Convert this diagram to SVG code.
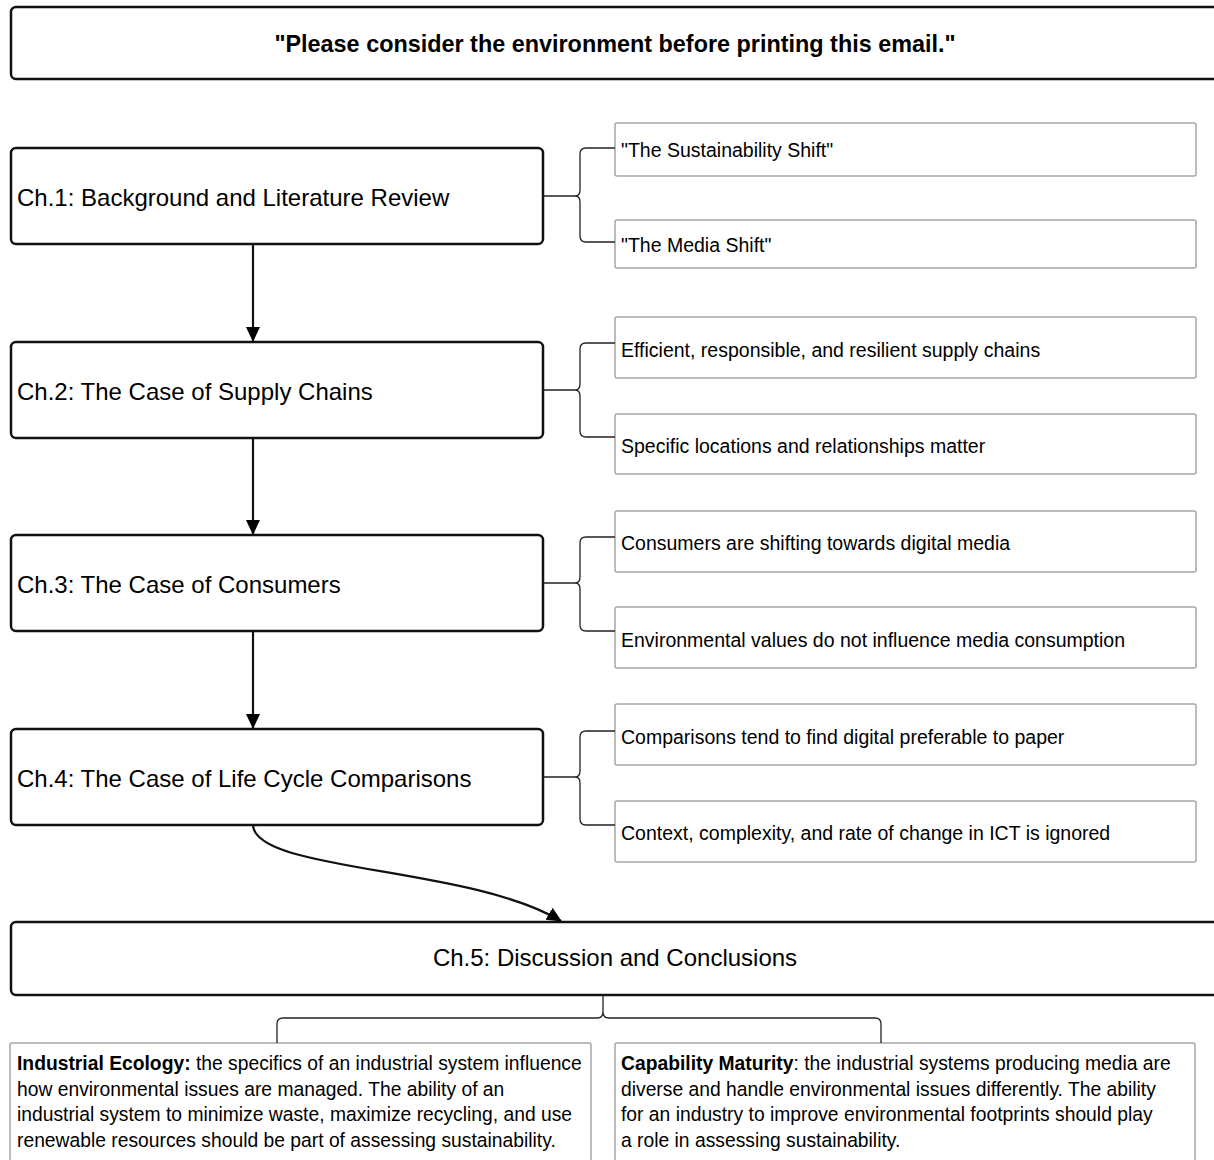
<svg xmlns="http://www.w3.org/2000/svg" width="1214" height="1160" viewBox="0 0 1214 1160">
<defs>
<style>
.main{fill:#fff;stroke:#111;stroke-width:2.5}
.sub{fill:#fff;stroke:#a6a6a6;stroke-width:1.5}
.conn{fill:none;stroke:#111;stroke-width:2.2}
.brace{fill:none;stroke:#222;stroke-width:1.3}
.t{font-family:"Liberation Sans",Arial,sans-serif;fill:#000}
.ch{font-size:24px}
.st{font-size:19.5px}
.bt{font-size:19.3px}
</style>
<marker id="ah" viewBox="0 0 15 14" refX="14" refY="7" markerWidth="15" markerHeight="14" markerUnits="userSpaceOnUse" orient="auto">
<path d="M0,0 L15,7 L0,14 z" fill="#000"/>
</marker>
</defs>
<rect width="1214" height="1160" fill="#fff"/>

<g id="title">
<rect class="main" x="11" y="7" width="1230" height="72" rx="5"/>
<text class="t" x="615" y="52" text-anchor="middle" font-size="23.4" font-weight="bold">"Please consider the environment before printing this email."</text>
</g>

<g id="ch1">
<rect class="main" x="11" y="148" width="532" height="96" rx="5"/>
<text class="t ch" x="17" y="206">Ch.1: Background and Literature Review</text>
</g>
<g id="ch1a"><rect class="sub" x="615" y="123" width="581" height="53" rx="2"/><text class="t st" x="621" y="157">"The Sustainability Shift"</text></g>
<g id="ch1b"><rect class="sub" x="615" y="220" width="581" height="48" rx="2"/><text class="t st" x="621" y="252">"The Media Shift"</text></g>

<g id="ch2">
<rect class="main" x="11" y="342" width="532" height="96" rx="5"/>
<text class="t ch" x="17" y="400">Ch.2: The Case of Supply Chains</text>
</g>
<g id="ch2a"><rect class="sub" x="615" y="317" width="581" height="61" rx="2"/><text class="t st" x="621" y="357">Efficient, responsible, and resilient supply chains</text></g>
<g id="ch2b"><rect class="sub" x="615" y="414" width="581" height="60" rx="2"/><text class="t st" x="621" y="453">Specific locations and relationships matter</text></g>

<g id="ch3">
<rect class="main" x="11" y="535" width="532" height="96" rx="5"/>
<text class="t ch" x="17" y="593">Ch.3: The Case of Consumers</text>
</g>
<g id="ch3a"><rect class="sub" x="615" y="511" width="581" height="61" rx="2"/><text class="t st" x="621" y="550">Consumers are shifting towards digital media</text></g>
<g id="ch3b"><rect class="sub" x="615" y="607" width="581" height="61" rx="2"/><text class="t st" x="621" y="647">Environmental values do not influence media consumption</text></g>

<g id="ch4">
<rect class="main" x="11" y="729" width="532" height="96" rx="5"/>
<text class="t ch" x="17" y="787">Ch.4: The Case of Life Cycle Comparisons</text>
</g>
<g id="ch4a"><rect class="sub" x="615" y="704" width="581" height="61" rx="2"/><text class="t st" x="621" y="744">Comparisons tend to find digital preferable to paper</text></g>
<g id="ch4b"><rect class="sub" x="615" y="801" width="581" height="61" rx="2"/><text class="t st" x="621" y="840">Context, complexity, and rate of change in ICT is ignored</text></g>

<g id="ch5">
<rect class="main" x="11" y="922" width="1230" height="73" rx="5"/>
<text class="t ch" x="615" y="966" text-anchor="middle">Ch.5: Discussion and Conclusions</text>
</g>

<g id="ie">
<rect class="sub" x="10" y="1043" width="581" height="140" rx="2"/>
<text class="t bt" x="17" y="1070"><tspan font-weight="bold">Industrial Ecology:</tspan> the specifics of an industrial system influence</text>
<text class="t bt" x="17" y="1096">how environmental issues are managed. The ability of an</text>
<text class="t bt" x="17" y="1121">industrial system to minimize waste, maximize recycling, and use</text>
<text class="t bt" x="17" y="1147">renewable resources should be part of assessing sustainability.</text>
</g>
<g id="cm">
<rect class="sub" x="615" y="1043" width="580" height="140" rx="2"/>
<text class="t bt" x="621" y="1070"><tspan font-weight="bold">Capability Maturity</tspan>: the industrial systems producing media are</text>
<text class="t bt" x="621" y="1096">diverse and handle environmental issues differently. The ability</text>
<text class="t bt" x="621" y="1121">for an industry to improve environmental footprints should play</text>
<text class="t bt" x="621" y="1147">a role in assessing sustainability.</text>
</g>

<g id="connectors">
<line class="conn" x1="253" y1="244" x2="253" y2="341" marker-end="url(#ah)"/>
<line class="conn" x1="253" y1="438" x2="253" y2="534" marker-end="url(#ah)"/>
<line class="conn" x1="253" y1="631" x2="253" y2="728" marker-end="url(#ah)"/>
<path class="conn" d="M253,825 C255,872 470,866 561,921" marker-end="url(#ah)"/>
<path class="brace" d="M543,196 H575 M615,148 H586 Q580,148 580,154 V190 Q580,196 575,196 Q580,196 580,202 V236 Q580,242 586,242 H615"/>
<path class="brace" d="M543,390 H575 M615,343 H586 Q580,343 580,349 V384 Q580,390 575,390 Q580,390 580,396 V431 Q580,437 586,437 H615"/>
<path class="brace" d="M543,583 H575 M615,537 H586 Q580,537 580,543 V577 Q580,583 575,583 Q580,583 580,589 V625 Q580,631 586,631 H615"/>
<path class="brace" d="M543,777 H575 M615,731 H586 Q580,731 580,737 V771 Q580,777 575,777 Q580,777 580,783 V819 Q580,825 586,825 H615"/>
<path class="brace" d="M603,995 V1012 Q603,1018 597,1018 H283 Q277,1018 277,1024 V1043 M603,1012 Q603,1018 609,1018 H875 Q881,1018 881,1024 V1043"/>
</g>
</svg>
